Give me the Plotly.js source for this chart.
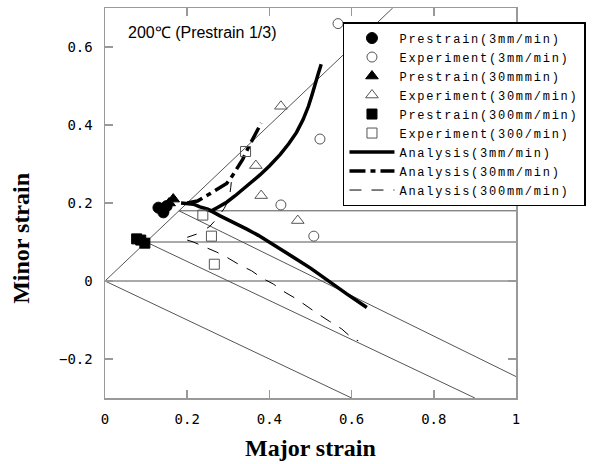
<!DOCTYPE html>
<html>
<head>
<meta charset="utf-8">
<script src="https://cdn.plot.ly/plotly-3.0.1.min.js"></script>
<style>
body{margin:0;padding:0;background:#fff;}
#chart{width:597px;height:464px;}
.legendtext{letter-spacing:1.75px;}
</style>
</head>
<body>
<div id="chart"></div>
<script>
// ---- guide lines (constant strain-path reference lines) ----
const guideX = [[0, 0.7], [0, 1], [0.1, 1], [0.18, 1], [0, 0.6], [0.1, 0.9], [0.18, 1]];
const guideY = [[0, 0.7], [0, 0], [0.1, 0.1], [0.18, 0.18], [0, -0.3], [0.1, -0.3], [0.18, -0.245]];

// ---- prestrain points ----
const pre3X = [0.13, 0.142, 0.15];
const pre3Y = [0.188, 0.176, 0.192];
const pre30X = [0.166, 0.156];
const pre30Y = [0.21, 0.2];
const pre300X = [0.077, 0.087, 0.097];
const pre300Y = [0.108, 0.105, 0.097];

// ---- experiment points ----
const exp3X = [0.567, 0.523, 0.428, 0.508];
const exp3Y = [0.66, 0.364, 0.195, 0.115];
const exp30X = [0.428, 0.367, 0.38, 0.469];
const exp30Y = [0.448, 0.296, 0.219, 0.155];
const exp300X = [0.342, 0.238, 0.259, 0.266];
const exp300Y = [0.332, 0.169, 0.115, 0.043];

// ---- analysis curves ----
const ana3UpX = [0.247, 0.259, 0.275, 0.296, 0.316, 0.337, 0.357, 0.377, 0.4, 0.426, 0.447, 0.466, 0.482, 0.495, 0.504, 0.511, 0.519, 0.526];
const ana3UpY = [0.183, 0.18, 0.189, 0.202, 0.218, 0.236, 0.254, 0.272, 0.295, 0.324, 0.352, 0.381, 0.414, 0.448, 0.478, 0.507, 0.532, 0.556];
const ana3LoX = [0.185, 0.2, 0.215, 0.231, 0.25, 0.28, 0.31, 0.345, 0.373, 0.401, 0.435, 0.466, 0.5, 0.531, 0.56, 0.588, 0.612, 0.637];
const ana3LoY = [0.2, 0.199, 0.197, 0.19, 0.184, 0.167, 0.152, 0.133, 0.117, 0.099, 0.078, 0.056, 0.033, 0.009, -0.012, -0.033, -0.05, -0.068];
const ana30X = [0.2, 0.225, 0.251, 0.275, 0.296, 0.31, 0.324, 0.335, 0.35, 0.365, 0.38];
const ana30Y = [0.2, 0.205, 0.221, 0.236, 0.25, 0.27, 0.292, 0.312, 0.345, 0.377, 0.405];
const ana300UpX = [0.2, 0.228, 0.255, 0.272, 0.29, 0.302, 0.306, 0.31];
const ana300UpY = [0.112, 0.122, 0.14, 0.16, 0.186, 0.21, 0.24, 0.283];
const ana300LoX = [0.2, 0.215, 0.243, 0.272, 0.296, 0.328, 0.357, 0.381, 0.41, 0.438, 0.466, 0.495, 0.519, 0.547, 0.576, 0.604, 0.616];
const ana300LoY = [0.105, 0.1, 0.087, 0.074, 0.061, 0.041, 0.026, 0.008, -0.008, -0.029, -0.046, -0.068, -0.085, -0.104, -0.123, -0.149, -0.153];

// ---- labels ----
const legendNames = ["Prestrain(3mm/min)", "Experiment(3mm/min)", "Prestrain(30mmmin)", "Experiment(30mm/min)",
  "Prestrain(300mm/min)", "Experiment(300/min)", "Analysis(3mm/min)", "Analysis(30mm/min)", "Analysis(300mm/min)"];
const xTickVals = [0, 0.2, 0.4, 0.6, 0.8, 1];
const xTickText = ["0", "0.2", "0.4", "0.6", "0.8", "1"];
const yTickVals = [-0.2, 0, 0.2, 0.4, 0.6];
const yTickText = ["\u22120.2", "0", "0.2", "0.4", "0.6"];
const chartNote = "200\u2103 (Prestrain 1/3)";
const xTitle = "Major strain";
const yTitle = "Minor strain";

const traces = [];
for (let i = 0; i < guideX.length; i++) {
  traces.push({x: guideX[i], y: guideY[i], mode: 'lines', showlegend: false, hoverinfo: 'skip',
    line: {color: '#555', width: 1}});
}
const mk = (x, y, name, symbol, size, filled) => ({
  x, y, name, mode: 'markers', type: 'scatter',
  marker: {symbol, size, color: filled ? '#000' : '#555',
    line: {color: filled ? '#000' : '#555', width: 1}}
});
const ln = (x, y, name, dash, width, show, group) => ({
  x, y, name, mode: 'lines', type: 'scatter', showlegend: show, legendgroup: group,
  line: {color: '#000', width, dash}
});

traces.push(ln(ana3LoX, ana3LoY, legendNames[6], 'solid', 3.5, true, 'a3'));
traces.push(ln(ana30X, ana30Y, legendNames[7], '16px,5px,5px,5px', 3.5, true, 'a30'));
traces.push(ln(ana300LoX, ana300LoY, legendNames[8], '12px,10px', 1, true, 'a300'));
traces.push(ln(ana3UpX, ana3UpY, legendNames[6], 'solid', 3.5, false, 'a3'));
traces.push(ln(ana300UpX, ana300UpY, legendNames[8], '10px,12px', 1, false, 'a300'));
traces.push(mk(pre3X, pre3Y, legendNames[0], 'circle', 11, true));
traces.push(mk(exp3X, exp3Y, legendNames[1], 'circle-open', 10, false));
traces.push(mk(pre30X, pre30Y, legendNames[2], 'triangle-up', 11, true));
traces.push(mk(exp30X, exp30Y, legendNames[3], 'triangle-up-open', 11, false));
traces.push(mk(pre300X, pre300Y, legendNames[4], 'square', 10, true));
traces.push(mk(exp300X, exp300Y, legendNames[5], 'square-open', 10, false));

const order = {};
legendNames.forEach((n, i) => order[n] = i + 1);
traces.forEach(t => { if (t.name) t.legendrank = order[t.name]; });

const axisCommon = {
  showgrid: false, zeroline: false, showline: true, linecolor: '#999', linewidth: 1.5,
  mirror: 'ticks', ticks: 'inside', ticklen: 8, tickcolor: '#999', tickwidth: 1.5,
  tickfont: {family: 'DejaVu Sans Mono, monospace', size: 14, color: '#000'},
  ticklabelstandoff: 8
};
const titleFont = {family: 'Liberation Serif, Times New Roman, serif', size: 24, color: '#000', weight: 'bold'};

const layout = {
  width: 597, height: 464,
  margin: {l: 105, r: 81, t: 8, b: 66},
  paper_bgcolor: '#fff', plot_bgcolor: '#fff',
  showlegend: true,
  xaxis: Object.assign({}, axisCommon, {range: [0, 1], tickvals: xTickVals, ticktext: xTickText}),
  yaxis: Object.assign({}, axisCommon, {range: [-0.3, 0.7], tickvals: yTickVals, ticktext: yTickText}),
  legend: {
    x: 0.579, y: 0.964, xanchor: 'left', yanchor: 'top',
    bgcolor: '#fff', bordercolor: '#000', borderwidth: 1.5,
    font: {family: 'Liberation Mono, DejaVu Sans Mono, monospace', size: 12, color: '#000'},
    itemwidth: 45, tracegroupgap: 0, traceorder: 'normal'
  },
  annotations: [
    {text: chartNote, xref: 'paper', yref: 'paper', x: 0.05, y: 0.936, xanchor: 'left', yanchor: 'middle',
      showarrow: false, font: {family: 'Liberation Sans, Arial, sans-serif', size: 16, color: '#000'}},
    {text: xTitle, xref: 'paper', yref: 'paper', x: 0.5, y: -0.127, xanchor: 'center', yanchor: 'middle',
      showarrow: false, font: titleFont},
    {text: yTitle, xref: 'paper', yref: 'paper', x: -0.205, y: 0.41, xanchor: 'center', yanchor: 'middle',
      textangle: -90, showarrow: false, font: titleFont}
  ]
};

Plotly.newPlot('chart', traces, layout, {staticPlot: true, displayModeBar: false});
</script>
</body>
</html>
